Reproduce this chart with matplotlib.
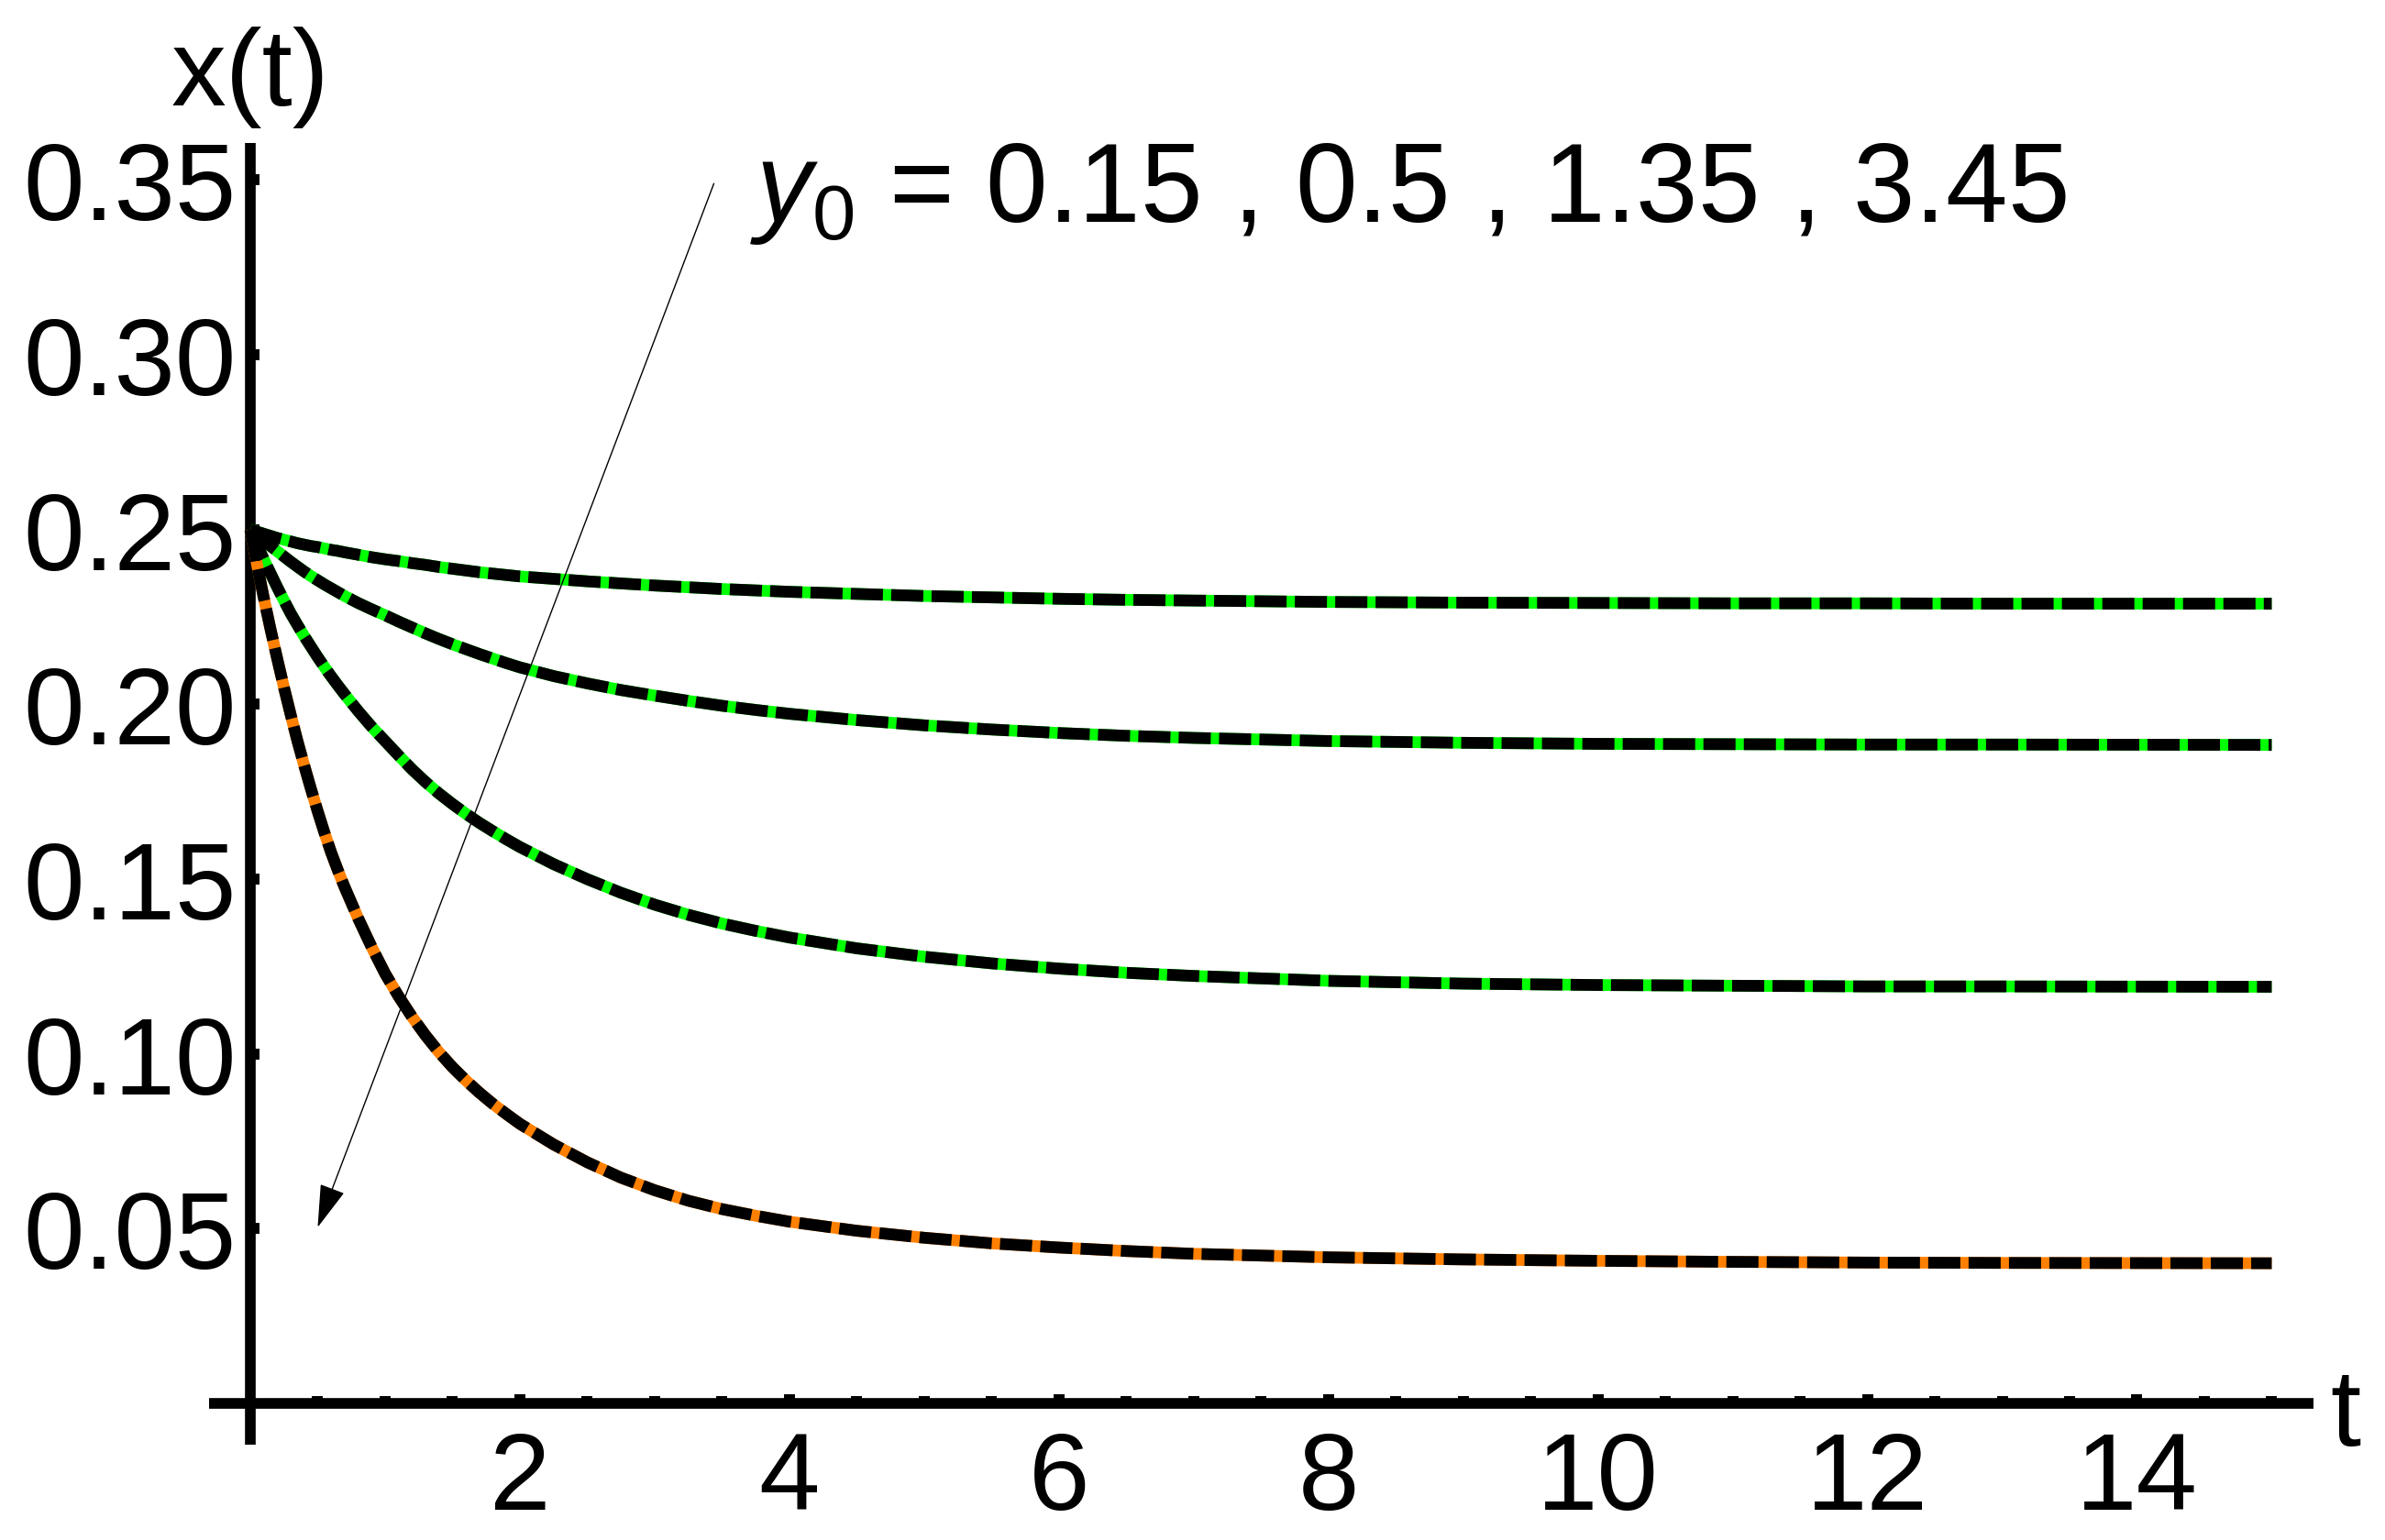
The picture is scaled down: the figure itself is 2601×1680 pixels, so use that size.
import matplotlib
matplotlib.use("Agg")
import matplotlib.pyplot as plt

plt.rcParams['font.family'] = ['Liberation Sans', 'DejaVu Sans']
plt.rcParams['mathtext.fontset'] = 'custom'
plt.rcParams['mathtext.rm'] = 'Liberation Sans'
plt.rcParams['mathtext.it'] = 'Liberation Sans:italic'
plt.rcParams['lines.scale_dashes'] = False

# time grid, values
t = [0, 0.05, 0.1, 0.15, 0.2, 0.25, 0.3, 0.35, 0.4, 0.45, 0.5, 0.55, 0.6, 0.65,
     0.7, 0.8, 0.9, 1.0, 1.1, 1.2, 1.3, 1.4, 1.5, 1.6, 1.7, 1.8, 1.9, 2.0,
     2.25, 2.5, 2.75, 3.0, 3.25, 3.5, 3.75, 4.0, 4.5, 5.0, 5.5, 6.0, 6.5, 7.0,
     8.0, 9.0, 10.0, 11.0, 12.0, 13.0, 15.0]

# x(t) for y0 = 0.15, 0.5, 1.35, 3.45
x_y015 = [0.2500, 0.2494, 0.2488, 0.2482, 0.2476, 0.2471, 0.2466, 0.2461, 0.2457,
          0.2453, 0.2450, 0.2446, 0.2442, 0.2439, 0.2435, 0.2428, 0.2421, 0.2415,
          0.2410, 0.2404, 0.2399, 0.2393, 0.2388, 0.2383, 0.2378, 0.2374, 0.2370,
          0.2366, 0.2359, 0.2352, 0.2346, 0.2340, 0.2335, 0.2330, 0.2326, 0.2322,
          0.2316, 0.2310, 0.2306, 0.2302, 0.2299, 0.2297, 0.2293, 0.2291, 0.2290,
          0.2289, 0.2289, 0.2288, 0.2288]
x_y05 = [0.2500, 0.2484, 0.2468, 0.2453, 0.2438, 0.2423, 0.2408, 0.2394, 0.2380,
         0.2367, 0.2355, 0.2343, 0.2332, 0.2321, 0.2310, 0.2290, 0.2272, 0.2255,
         0.2237, 0.2220, 0.2203, 0.2187, 0.2172, 0.2158, 0.2144, 0.2131, 0.2118,
         0.2106, 0.2081, 0.2060, 0.2041, 0.2025, 0.2010, 0.1996, 0.1984, 0.1973,
         0.1955, 0.1940, 0.1928, 0.1918, 0.1910, 0.1904, 0.1895, 0.1890, 0.1887,
         0.1886, 0.1885, 0.1885, 0.1884]
x_y135 = [0.2500, 0.2457, 0.2415, 0.2375, 0.2335, 0.2297, 0.2260, 0.2227, 0.2195,
          0.2165, 0.2135, 0.2107, 0.2080, 0.2054, 0.2029, 0.1981, 0.1936, 0.1895,
          0.1854, 0.1814, 0.1778, 0.1745, 0.1715, 0.1687, 0.1661, 0.1637, 0.1614,
          0.1592, 0.1543, 0.1500, 0.1461, 0.1427, 0.1398, 0.1373, 0.1352, 0.1333,
          0.1302, 0.1278, 0.1259, 0.1244, 0.1232, 0.1223, 0.1209, 0.1201, 0.1197,
          0.1195, 0.1193, 0.1193, 0.1192]
x_y345 = [0.2500, 0.2400, 0.2305, 0.2215, 0.2130, 0.2048, 0.1970, 0.1895, 0.1825,
          0.1758, 0.1694, 0.1633, 0.1576, 0.1525, 0.1477, 0.1388, 0.1306, 0.1230,
          0.1165, 0.1106, 0.1053, 0.1005, 0.0962, 0.0924, 0.0889, 0.0857, 0.0828,
          0.0800, 0.0741, 0.0690, 0.0646, 0.0610, 0.0580, 0.0556, 0.0537, 0.0520,
          0.0494, 0.0474, 0.0458, 0.0446, 0.0436, 0.0428, 0.0418, 0.0412, 0.0408,
          0.0405, 0.0403, 0.0402, 0.0401]

curves = [x_y015, x_y05, x_y135, x_y345]
under_colors = ['#00ff00', '#00ff00', '#00ff00', '#ff8000']

xticks = [2, 4, 6, 8, 10, 12, 14]
xminor = [0.5, 1, 1.5, 2.5, 3, 3.5, 4.5, 5, 5.5, 6.5, 7, 7.5, 8.5, 9, 9.5,
          10.5, 11, 11.5, 12.5, 13, 13.5, 14.5, 15]
yticks = [0.05, 0.10, 0.15, 0.20, 0.25, 0.30, 0.35]

fig = plt.figure(figsize=(26.01, 16.81), dpi=100)
ax = fig.add_axes([228 / 2601, 1 - 1577 / 1681, (2523 - 228) / 2601, (1577 - 157) / 1681])
ax.set_xlim(-0.306, 15.31)
ax.set_ylim(-0.0118, 0.3606)

lw = 9.2
for vals, col in zip(curves, under_colors):
    ax.plot(t, vals, color=col, lw=lw, solid_capstyle='butt', zorder=3)
    ax.plot(t, vals, color='black', lw=lw, dashes=(25.2, 6.5),
            dash_capstyle='butt', zorder=4)

for side in ['top', 'right']:
    ax.spines[side].set_visible(False)
ax.spines['left'].set_position(('data', 0))
ax.spines['bottom'].set_position(('data', 0))
for side in ['left', 'bottom']:
    ax.spines[side].set_linewidth(8.4)
    ax.spines[side].set_capstyle('butt')

ax.set_xticks(xticks)
ax.set_xticks(xminor, minor=True)
ax.set_yticks(yticks)
ax.set_yticklabels(['%.2f' % v for v in yticks])
ax.tick_params(axis='both', which='major', direction='in', length=7.4, width=8.6,
               labelsize=86)
ax.tick_params(axis='x', which='minor', direction='in', length=5.6, width=8.6)
ax.tick_params(axis='x', which='major', pad=21)
ax.tick_params(axis='y', which='major', pad=11)

ax.text(0, 0.3716, 'x(t)', fontsize=86, ha='center', va='baseline')
ax.text(15.55, -0.0118, 't', fontsize=86, ha='center', va='baseline')
ax.text(3.71, 0.3383, r'$y_0$ = 0.15 , 0.5 , 1.35 , 3.45', fontsize=87.5,
        ha='left', va='baseline')

ax.annotate('', xy=(0.50, 0.0504), xytext=(3.44, 0.349),
            arrowprops=dict(arrowstyle='-|>,head_length=0.30,head_width=0.09',
                            mutation_scale=100, lw=1.0, color='black',
                            shrinkA=0, shrinkB=0))

fig.savefig('out.png', dpi=100)
